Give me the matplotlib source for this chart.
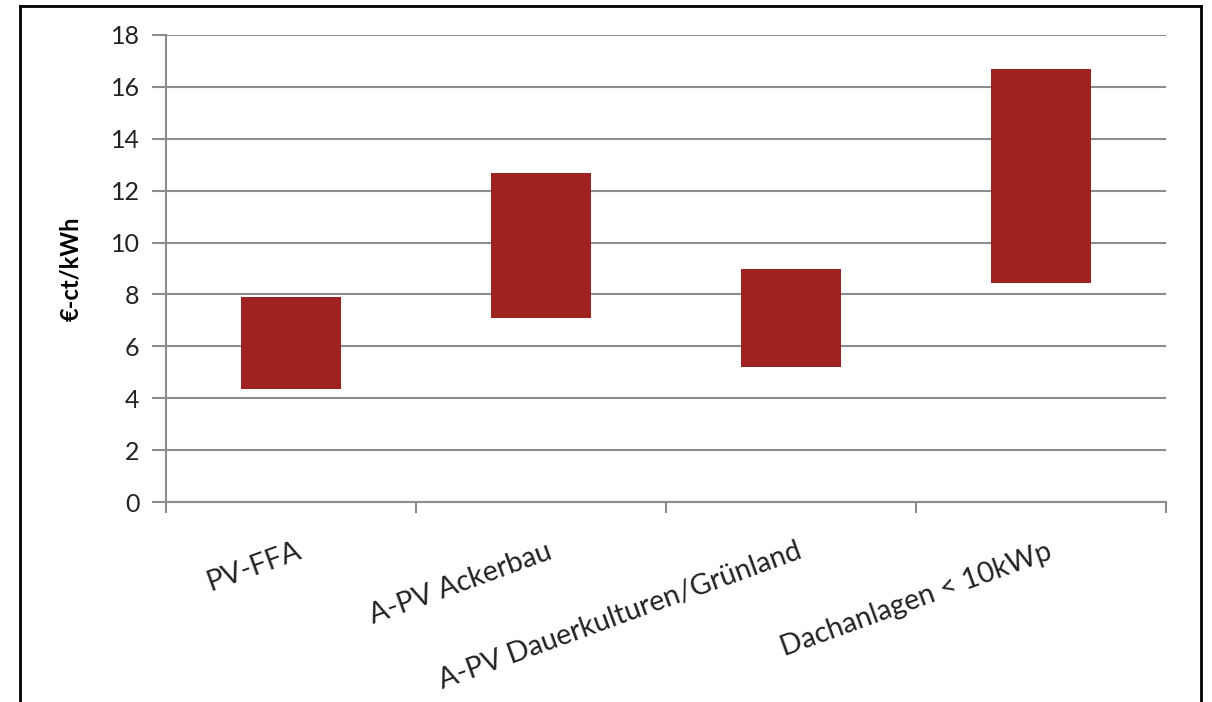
import matplotlib.pyplot as plt
from matplotlib.lines import Line2D
import numpy as np

categories = ["PV-FFA", "A-PV Ackerbau", "A-PV Dauerkulturen/Grünland", "Dachanlagen < 10kWp"]
low = [4.35, 7.1, 5.2, 8.45]
high = [7.9, 12.7, 9.0, 16.7]
yticks = [0, 2, 4, 6, 8, 10, 12, 14, 16, 18]

plt.rcParams['font.family'] = ['Lato', 'DejaVu Sans']

fig = plt.figure(figsize=(12.12, 7.02), dpi=100)
ax = fig.add_axes([166 / 1212, 1 - 502 / 702, 1000 / 1212, 467 / 702])

grid_col = '#8c8c8c'
x = np.arange(len(categories))
heights = np.array(high) - np.array(low)
ax.bar(x, heights, bottom=low, width=0.4, color='#9e2220', zorder=3)

ax.set_xlim(-0.5, len(categories) - 0.5)
ax.set_ylim(0, 18)
ax.set_yticks(yticks)
ax.yaxis.grid(True, color=grid_col, lw=1.5, zorder=0)
ax.set_axisbelow(True)

# category separators as minor ticks, labels on major positions
ax.set_xticks(x + 0.02)
ax.set_xticks(np.arange(-0.5, len(categories)), minor=True)
ax.set_xticklabels(categories, rotation=20, ha='right', rotation_mode='anchor',
                   fontsize=20.5, color='#222222')
ax.tick_params(axis='x', which='major', length=0, pad=26)
ax.tick_params(axis='x', which='minor', length=8, width=1.5, color=grid_col, direction='out')
ax.tick_params(axis='y', length=10, width=1.5, color=grid_col, labelsize=18,
               labelcolor='#222222', pad=9)

for s in ['top', 'right']:
    ax.spines[s].set_visible(False)
for s in ['left', 'bottom']:
    ax.spines[s].set_color(grid_col)
    ax.spines[s].set_linewidth(1.5)

ax.set_ylabel("€-ct/kWh", fontsize=17, fontweight='bold', labelpad=20)

# outer frame (open at the bottom)
frame = dict(color='black', lw=2, transform=fig.transFigure)
fig.add_artist(Line2D([20 / 1212, 20 / 1212], [0, 1 - 6 / 702], **frame))
fig.add_artist(Line2D([20 / 1212, 1201 / 1212], [1 - 6 / 702, 1 - 6 / 702], **frame))
fig.add_artist(Line2D([1201 / 1212, 1201 / 1212], [0, 1 - 6 / 702], **frame))

fig.savefig("out.png", dpi=100)
